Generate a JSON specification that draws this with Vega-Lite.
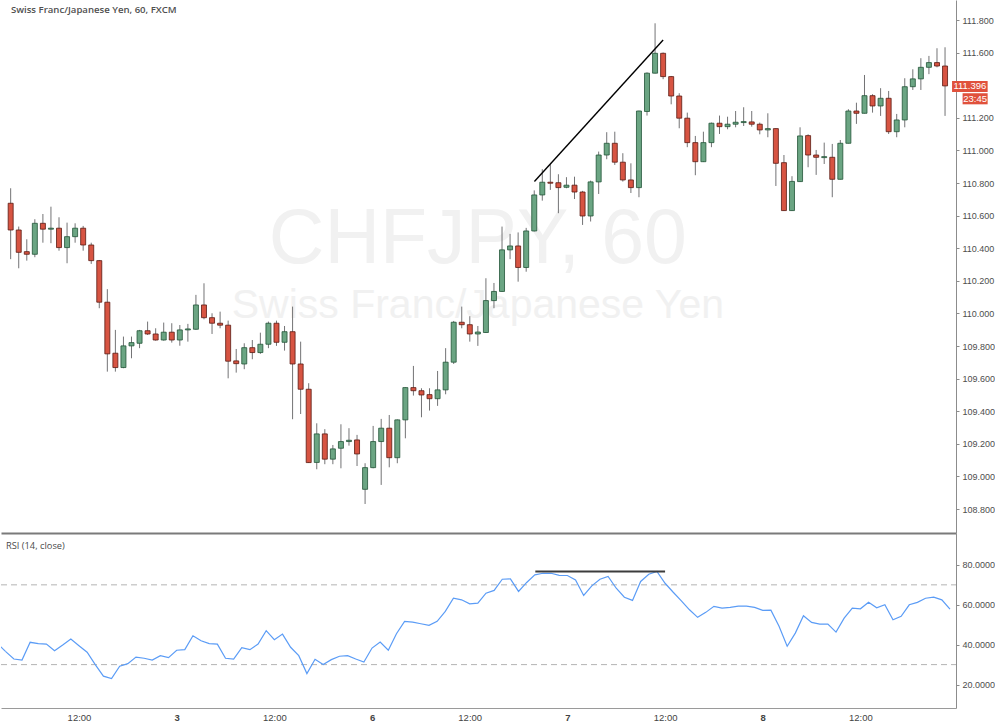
{
  "$schema": "https://vega.github.io/schema/vega-lite/v6.json",
  "padding": 0,
  "background": "#ffffff",
  "spacing": 0,
  "config": {
    "view": {"stroke": null},
    "axis": {"grid": false, "labelFont": "Liberation Sans", "labelFontSize": 9, "labelColor": "#4d4d4d", "domainColor": "#8c8c8c", "tickColor": "#8c8c8c", "labelOverlap": false}
  },
  "datasets": {
    "bars": [
      {"i":0,"o":110.676,"h":110.768,"l":110.333,"c":110.512,"r":36.5},
      {"i":1,"o":110.512,"h":110.533,"l":110.277,"c":110.375,"r":32.8},
      {"i":2,"o":110.379,"h":110.455,"l":110.324,"c":110.363,"r":32.3},
      {"i":3,"o":110.363,"h":110.578,"l":110.345,"c":110.553,"r":41.2},
      {"i":4,"o":110.553,"h":110.610,"l":110.434,"c":110.517,"r":40.5},
      {"i":5,"o":110.517,"h":110.655,"l":110.431,"c":110.523,"r":40.3},
      {"i":6,"o":110.523,"h":110.590,"l":110.385,"c":110.404,"r":37.0},
      {"i":7,"o":110.404,"h":110.557,"l":110.308,"c":110.471,"r":39.8},
      {"i":8,"o":110.471,"h":110.553,"l":110.434,"c":110.523,"r":42.8},
      {"i":9,"o":110.523,"h":110.537,"l":110.385,"c":110.420,"r":39.5},
      {"i":10,"o":110.420,"h":110.434,"l":110.304,"c":110.324,"r":36.2},
      {"i":11,"o":110.324,"h":110.328,"l":110.032,"c":110.069,"r":30.0},
      {"i":12,"o":110.069,"h":110.149,"l":109.643,"c":109.752,"r":24.2},
      {"i":13,"o":109.756,"h":109.899,"l":109.643,"c":109.668,"r":23.0},
      {"i":14,"o":109.668,"h":109.858,"l":109.664,"c":109.801,"r":29.2},
      {"i":15,"o":109.801,"h":109.858,"l":109.725,"c":109.821,"r":30.5},
      {"i":16,"o":109.817,"h":109.899,"l":109.787,"c":109.894,"r":33.8},
      {"i":17,"o":109.894,"h":109.950,"l":109.868,"c":109.874,"r":33.2},
      {"i":18,"o":109.874,"h":109.909,"l":109.833,"c":109.837,"r":32.3},
      {"i":19,"o":109.837,"h":109.944,"l":109.833,"c":109.885,"r":34.5},
      {"i":20,"o":109.885,"h":109.940,"l":109.821,"c":109.837,"r":33.5},
      {"i":21,"o":109.837,"h":109.929,"l":109.802,"c":109.899,"r":37.2},
      {"i":22,"o":109.899,"h":109.936,"l":109.827,"c":109.905,"r":37.5},
      {"i":23,"o":109.903,"h":110.114,"l":109.899,"c":110.052,"r":44.5},
      {"i":24,"o":110.052,"h":110.185,"l":109.964,"c":109.974,"r":42.0},
      {"i":25,"o":109.974,"h":110.001,"l":109.874,"c":109.940,"r":40.5},
      {"i":26,"o":109.940,"h":110.011,"l":109.909,"c":109.928,"r":40.3},
      {"i":27,"o":109.928,"h":109.956,"l":109.602,"c":109.707,"r":33.2},
      {"i":28,"o":109.709,"h":109.782,"l":109.637,"c":109.692,"r":32.8},
      {"i":29,"o":109.690,"h":109.817,"l":109.658,"c":109.790,"r":38.5},
      {"i":30,"o":109.790,"h":109.837,"l":109.719,"c":109.760,"r":37.5},
      {"i":31,"o":109.760,"h":109.882,"l":109.752,"c":109.811,"r":40.3},
      {"i":32,"o":109.811,"h":109.950,"l":109.787,"c":109.940,"r":47.0},
      {"i":33,"o":109.940,"h":109.956,"l":109.801,"c":109.823,"r":42.5},
      {"i":34,"o":109.823,"h":109.923,"l":109.772,"c":109.888,"r":45.3},
      {"i":35,"o":109.888,"h":110.042,"l":109.351,"c":109.690,"r":38.7},
      {"i":36,"o":109.690,"h":109.827,"l":109.383,"c":109.535,"r":34.5},
      {"i":37,"o":109.535,"h":109.572,"l":109.083,"c":109.085,"r":25.5},
      {"i":38,"o":109.086,"h":109.326,"l":109.044,"c":109.261,"r":32.7},
      {"i":39,"o":109.261,"h":109.290,"l":109.075,"c":109.106,"r":30.0},
      {"i":40,"o":109.106,"h":109.193,"l":109.075,"c":109.169,"r":32.5},
      {"i":41,"o":109.173,"h":109.320,"l":109.050,"c":109.214,"r":34.2},
      {"i":42,"o":109.214,"h":109.296,"l":109.189,"c":109.222,"r":34.5},
      {"i":43,"o":109.224,"h":109.255,"l":109.064,"c":109.138,"r":32.8},
      {"i":44,"o":108.921,"h":109.081,"l":108.831,"c":109.054,"r":31.3},
      {"i":45,"o":109.054,"h":109.310,"l":109.050,"c":109.214,"r":38.3},
      {"i":46,"o":109.214,"h":109.353,"l":108.948,"c":109.296,"r":41.3},
      {"i":47,"o":109.296,"h":109.377,"l":109.056,"c":109.115,"r":37.2},
      {"i":48,"o":109.115,"h":109.350,"l":109.081,"c":109.347,"r":45.5},
      {"i":49,"o":109.347,"h":109.547,"l":109.234,"c":109.545,"r":51.7},
      {"i":50,"o":109.545,"h":109.678,"l":109.496,"c":109.526,"r":51.3},
      {"i":51,"o":109.526,"h":109.541,"l":109.363,"c":109.500,"r":50.5},
      {"i":52,"o":109.502,"h":109.541,"l":109.404,"c":109.477,"r":49.7},
      {"i":53,"o":109.477,"h":109.647,"l":109.433,"c":109.531,"r":51.7},
      {"i":54,"o":109.531,"h":109.787,"l":109.504,"c":109.701,"r":56.7},
      {"i":55,"o":109.701,"h":109.954,"l":109.690,"c":109.946,"r":63.3},
      {"i":56,"o":109.946,"h":110.042,"l":109.909,"c":109.931,"r":62.5},
      {"i":57,"o":109.931,"h":109.983,"l":109.827,"c":109.874,"r":60.5},
      {"i":58,"o":109.874,"h":109.923,"l":109.801,"c":109.886,"r":60.8},
      {"i":59,"o":109.883,"h":110.216,"l":109.880,"c":110.079,"r":65.8},
      {"i":60,"o":110.079,"h":110.187,"l":110.032,"c":110.135,"r":67.2},
      {"i":61,"o":110.135,"h":110.533,"l":110.132,"c":110.390,"r":72.8},
      {"i":62,"o":110.390,"h":110.488,"l":110.333,"c":110.414,"r":73.0},
      {"i":63,"o":110.414,"h":110.497,"l":110.195,"c":110.282,"r":66.7},
      {"i":64,"o":110.282,"h":110.525,"l":110.256,"c":110.506,"r":71.2},
      {"i":65,"o":110.506,"h":110.755,"l":110.503,"c":110.727,"r":75.0},
      {"i":66,"o":110.727,"h":110.885,"l":110.692,"c":110.805,"r":75.8},
      {"i":67,"o":110.805,"h":110.915,"l":110.758,"c":110.799,"r":75.8},
      {"i":68,"o":110.802,"h":110.854,"l":110.615,"c":110.772,"r":74.8},
      {"i":69,"o":110.774,"h":110.836,"l":110.768,"c":110.787,"r":74.7},
      {"i":70,"o":110.787,"h":110.839,"l":110.702,"c":110.745,"r":72.5},
      {"i":71,"o":110.745,"h":110.752,"l":110.543,"c":110.598,"r":64.7},
      {"i":72,"o":110.598,"h":110.815,"l":110.564,"c":110.807,"r":69.5},
      {"i":73,"o":110.807,"h":110.993,"l":110.733,"c":110.972,"r":72.8},
      {"i":74,"o":110.972,"h":111.112,"l":110.946,"c":111.044,"r":74.2},
      {"i":75,"o":111.044,"h":111.115,"l":110.911,"c":110.928,"r":68.3},
      {"i":76,"o":110.928,"h":110.983,"l":110.809,"c":110.819,"r":63.8},
      {"i":77,"o":110.819,"h":110.921,"l":110.739,"c":110.772,"r":62.2},
      {"i":78,"o":110.772,"h":111.244,"l":110.713,"c":111.242,"r":71.7},
      {"i":79,"o":111.239,"h":111.479,"l":111.214,"c":111.474,"r":75.3},
      {"i":80,"o":111.474,"h":111.780,"l":111.472,"c":111.596,"r":76.7},
      {"i":81,"o":111.596,"h":111.601,"l":111.437,"c":111.453,"r":70.8},
      {"i":82,"o":111.453,"h":111.457,"l":111.283,"c":111.334,"r":66.3},
      {"i":83,"o":111.334,"h":111.351,"l":111.136,"c":111.198,"r":62.0},
      {"i":84,"o":111.198,"h":111.232,"l":111.020,"c":111.048,"r":57.5},
      {"i":85,"o":111.048,"h":111.089,"l":110.848,"c":110.931,"r":53.7},
      {"i":86,"o":110.931,"h":111.115,"l":110.929,"c":111.048,"r":56.2},
      {"i":87,"o":111.048,"h":111.171,"l":111.020,"c":111.167,"r":59.2},
      {"i":88,"o":111.167,"h":111.214,"l":111.101,"c":111.146,"r":58.3},
      {"i":89,"o":111.146,"h":111.207,"l":111.130,"c":111.161,"r":58.7},
      {"i":90,"o":111.161,"h":111.242,"l":111.142,"c":111.173,"r":59.3},
      {"i":91,"o":111.171,"h":111.265,"l":111.150,"c":111.177,"r":59.3},
      {"i":92,"o":111.175,"h":111.242,"l":111.146,"c":111.161,"r":58.7},
      {"i":93,"o":111.161,"h":111.171,"l":111.099,"c":111.126,"r":57.2},
      {"i":94,"o":111.126,"h":111.228,"l":111.081,"c":111.134,"r":57.3},
      {"i":95,"o":111.134,"h":111.136,"l":110.782,"c":110.921,"r":49.2},
      {"i":96,"o":110.925,"h":110.972,"l":110.629,"c":110.631,"r":39.2},
      {"i":97,"o":110.631,"h":110.842,"l":110.629,"c":110.810,"r":45.8},
      {"i":98,"o":110.809,"h":111.142,"l":110.807,"c":111.089,"r":54.5},
      {"i":99,"o":111.091,"h":111.099,"l":110.897,"c":110.972,"r":51.2},
      {"i":100,"o":110.972,"h":111.003,"l":110.850,"c":110.958,"r":50.3},
      {"i":101,"o":110.956,"h":111.048,"l":110.917,"c":110.962,"r":50.3},
      {"i":102,"o":110.958,"h":111.040,"l":110.713,"c":110.823,"r":46.3},
      {"i":103,"o":110.823,"h":111.064,"l":110.822,"c":111.044,"r":53.3},
      {"i":104,"o":111.044,"h":111.253,"l":111.043,"c":111.242,"r":58.3},
      {"i":105,"o":111.242,"h":111.293,"l":111.163,"c":111.228,"r":58.0},
      {"i":106,"o":111.228,"h":111.463,"l":111.227,"c":111.336,"r":61.3},
      {"i":107,"o":111.336,"h":111.345,"l":111.232,"c":111.273,"r":58.5},
      {"i":108,"o":111.273,"h":111.382,"l":111.212,"c":111.320,"r":60.0},
      {"i":109,"o":111.320,"h":111.365,"l":111.101,"c":111.115,"r":52.5},
      {"i":110,"o":111.115,"h":111.224,"l":111.081,"c":111.187,"r":54.2},
      {"i":111,"o":111.187,"h":111.443,"l":111.142,"c":111.391,"r":60.0},
      {"i":112,"o":111.391,"h":111.498,"l":111.371,"c":111.439,"r":61.2},
      {"i":113,"o":111.439,"h":111.566,"l":111.371,"c":111.510,"r":63.3},
      {"i":114,"o":111.510,"h":111.580,"l":111.468,"c":111.539,"r":63.8},
      {"i":115,"o":111.539,"h":111.627,"l":111.510,"c":111.518,"r":62.5},
      {"i":116,"o":111.518,"h":111.633,"l":111.212,"c":111.396,"r":57.8}
    ]
  },
  "vconcat": [
    {
      "width": 955,
      "height": 533,
      "data": {"name": "bars"},
      "encoding": {
        "x": {"field": "i", "type": "quantitative", "title": null,
              "scale": {"domain": [-0.58, 116.74], "nice": false, "zero": false},
              "axis": {"labels": false, "ticks": false, "domainColor": "#7a7a7a", "domainWidth": 2}}
      },
      "layer": [
        {
          "data": {"values": [{"i": 58, "p": 110.451, "t": "CHFJPY, 60"}]},
          "mark": {"type": "text", "font": "Liberation Sans", "fontSize": 77, "color": "#f1f1f1", "align": "center", "baseline": "middle"},
          "encoding": {
            "y": {"field": "p", "type": "quantitative", "title": null, "scale": {"domain": [108.653, 111.923], "nice": false, "zero": false}},
            "text": {"field": "t"}
          }
        },
        {
          "data": {"values": [{"i": 58, "p": 110.046, "t": "Swiss Franc/Japanese Yen"}]},
          "mark": {"type": "text", "font": "Liberation Sans", "fontSize": 41, "color": "#f1f1f1", "align": "center", "baseline": "middle"},
          "encoding": {
            "y": {"field": "p", "type": "quantitative", "title": null, "scale": {"domain": [108.653, 111.923], "nice": false, "zero": false}},
            "text": {"field": "t"}
          }
        },
        {
          "mark": {"type": "rule", "color": "#737375", "strokeWidth": 1},
          "encoding": {
            "y": {"field": "l", "type": "quantitative", "title": null,
                  "scale": {"domain": [108.653, 111.923], "nice": false, "zero": false},
                  "axis": {"orient": "right", "values": [108.8, 109.0, 109.2, 109.4, 109.6, 109.8, 110.0, 110.2, 110.4, 110.6, 110.8, 111.0, 111.2, 111.6, 111.8], "tickCount": 40, "format": ".3f", "tickSize": 3, "labelPadding": 3, "labelOverlap": false}},
            "y2": {"field": "h"}
          }
        },
        {
          "mark": {"type": "bar", "width": 5, "strokeWidth": 0.8},
          "encoding": {
            "y": {"field": "o", "type": "quantitative", "title": null, "scale": {"domain": [108.653, 111.923], "nice": false, "zero": false}},
            "y2": {"field": "c"},
            "fill": {"condition": {"test": "datum.c >= datum.o", "value": "#6ba583"}, "value": "#d75442"},
            "stroke": {"condition": {"test": "datum.c >= datum.o", "value": "#225437"}, "value": "#5b1a13"}
          }
        },
        {
          "data": {"values": [{"i": 65.02, "p": 110.809}, {"i": 81.0, "p": 111.678}]},
          "mark": {"type": "line", "color": "#000000", "strokeWidth": 1.4},
          "encoding": {
            "y": {"field": "p", "type": "quantitative", "title": null, "scale": {"domain": [108.653, 111.923], "nice": false, "zero": false}}
          }
        },
        {
          "data": {"values": [{"i": 0.03, "p": 111.864, "t": "Swiss Franc/Japanese Yen, 60, FXCM"}]},
          "mark": {"type": "text", "font": "Open Sans", "fontWeight": 600, "fontSize": 9.6, "color": "#4f4f4f", "align": "left", "baseline": "middle"},
          "encoding": {
            "y": {"field": "p", "type": "quantitative", "title": null, "scale": {"domain": [108.653, 111.923], "nice": false, "zero": false}},
            "text": {"field": "t"}
          }
        },
        {
          "data": {"values": [
            {"i": 116.87, "i2": 121.29, "p": 111.426, "p2": 111.359},
            {"i": 118.18, "i2": 121.29, "p": 111.351, "p2": 111.283}
          ]},
          "mark": {"type": "rect", "color": "#e0513c"},
          "encoding": {
            "x2": {"field": "i2"},
            "y": {"field": "p", "type": "quantitative", "title": null, "scale": {"domain": [108.653, 111.923], "nice": false, "zero": false}},
            "y2": {"field": "p2"}
          }
        },
        {
          "data": {"values": [
            {"i": 119.08, "p": 111.3925, "t": "111.396"},
            {"i": 119.735, "p": 111.317, "t": "23:45"}
          ]},
          "mark": {"type": "text", "font": "Liberation Sans", "fontSize": 9.5, "color": "#ffffff", "align": "center", "baseline": "middle"},
          "encoding": {
            "y": {"field": "p", "type": "quantitative", "title": null, "scale": {"domain": [108.653, 111.923], "nice": false, "zero": false}},
            "text": {"field": "t"}
          }
        }
      ]
    },
    {
      "width": 955,
      "height": 175,
      "data": {"name": "bars"},
      "encoding": {
        "x": {"field": "i", "type": "quantitative", "title": null,
              "scale": {"domain": [-0.58, 116.74], "nice": false, "zero": false},
              "axis": {"values": [9, 21, 33, 45, 57, 69, 81, 93, 105], "tickCount": 40,
                       "labelExpr": "datum.value == 21 ? '3' : datum.value == 45 ? '6' : datum.value == 69 ? '7' : datum.value == 93 ? '8' : '12:00'",
                       "ticks": false, "labelPadding": 4, "labelFontSize": 9.5, "labelColor": "#444444",
                       "labelFontWeight": {"condition": {"test": "datum.value % 24 == 21", "value": "bold"}, "value": "normal"},
                       "domainColor": "#9a9a9a"}}
      },
      "layer": [
        {
          "data": {"values": [{"i": -0.58, "i2": 116.74, "v": 70}, {"i": -0.58, "i2": 116.74, "v": 30}]},
          "mark": {"type": "rule", "color": "#b3b3b3", "strokeWidth": 1, "strokeDash": [6, 4]},
          "encoding": {
            "x2": {"field": "i2"},
            "y": {"field": "v", "type": "quantitative", "title": null, "scale": {"domain": [8.25, 96], "nice": false, "zero": false}}
          }
        },
        {
          "data": {"values": [{"i": -1, "v": 40.5}, {"i": 0, "v": 36.5}]},
          "mark": {"type": "line", "color": "#5b9cf6", "strokeWidth": 1.2, "clip": true},
          "encoding": {
            "y": {"field": "v", "type": "quantitative", "title": null, "scale": {"domain": [8.25, 96], "nice": false, "zero": false}}
          }
        },
        {
          "mark": {"type": "line", "color": "#5b9cf6", "strokeWidth": 1.2},
          "encoding": {
            "y": {"field": "r", "type": "quantitative", "title": null,
                  "scale": {"domain": [8.25, 96], "nice": false, "zero": false},
                  "axis": {"orient": "right", "values": [20, 40, 60, 80], "tickCount": 20, "format": ".4f", "tickSize": 3, "labelPadding": 3, "labelOverlap": false}}
          }
        },
        {
          "data": {"values": [{"i": 65.06, "i2": 81.0, "v": 76.65}]},
          "mark": {"type": "rule", "color": "#3c3c3c", "strokeWidth": 2},
          "encoding": {
            "x2": {"field": "i2"},
            "y": {"field": "v", "type": "quantitative", "title": null, "scale": {"domain": [8.25, 96], "nice": false, "zero": false}}
          }
        },
        {
          "data": {"values": [{"i": 0.03, "v": 89.6, "t": "RSI (14, close)"}]},
          "mark": {"type": "text", "font": "Open Sans", "fontSize": 9.3, "color": "#4a4a4a", "align": "left", "baseline": "middle"},
          "encoding": {
            "y": {"field": "v", "type": "quantitative", "title": null, "scale": {"domain": [8.25, 96], "nice": false, "zero": false}},
            "text": {"field": "t"}
          }
        }
      ]
    }
  ]
}
